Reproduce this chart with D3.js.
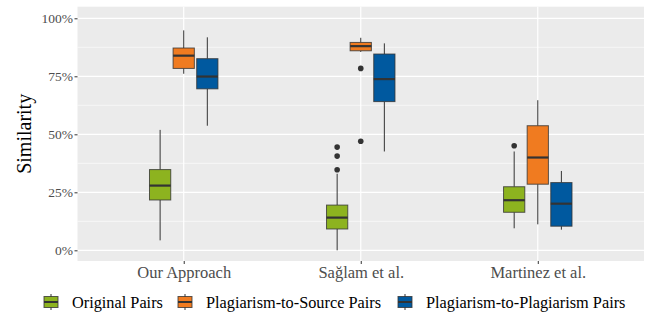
<!DOCTYPE html>
<html><head><meta charset="utf-8">
<script src="https://cdn.jsdelivr.net/npm/d3@7"></script>
<style>body{margin:0;background:#fff}svg{display:block} text{font-family:"Liberation Serif","DejaVu Serif",serif !important;}</style>
</head><body><div id="chart"></div>
<script>
const categories = ["Our Approach", "Sağlam et al.", "Martinez et al."];
const series = ["Original Pairs", "Plagiarism-to-Source Pairs", "Plagiarism-to-Plagiarism Pairs"];
const colors = ["#8DB31F", "#F07B20", "#00599F"];
// per series, per category: [lowerWhisker, q1, median, q3, upperWhisker]
const originalStats = [[4.3, 21.7, 27.9, 34.8, 51.9], [0.0, 9.2, 14.1, 19.5, 33.0], [9.5, 16.4, 21.6, 27.4, 42.6]];
const sourceStats   = [[76.1, 78.4, 83.9, 87.2, 94.8], [85.5, 86.0, 88.0, 89.6, 91.6], [11.2, 28.5, 40.0, 53.7, 64.7]];
const plagStats     = [[53.7, 69.6, 74.9, 82.6, 91.8], [42.6, 64.1, 73.8, 84.6, 89.2], [8.9, 10.4, 20.1, 29.2, 34.2]];
const originalOutliers = [[], [44.5, 40.6, 34.7], [45.1]];
const sourceOutliers   = [[], [78.4, 47.0], []];
const plagOutliers     = [[], [], []];
const yTicks = [0, 25, 50, 75, 100];
const yMinor = [12.5, 37.5, 62.5, 87.5];

const allStats = [originalStats, sourceStats, plagStats];
const allOutliers = [originalOutliers, sourceOutliers, plagOutliers];

const W = 651, H = 318;
const m = {l: 77.5, r: 7, t: 6.7, b: 57};
const svg = d3.select("#chart").append("svg").attr("width", W).attr("height", H);
const pw = W - m.l - m.r, ph = H - m.t - m.b;
const g = svg.append("g").attr("transform", `translate(${m.l},${m.t})`);

const x = d3.scalePoint().domain(categories).range([0, pw]).padding(0.6);
const step = x.step();
const y = d3.scaleLinear().domain([-4.6, 105]).range([ph, 0]);

g.append("rect").attr("width", pw).attr("height", ph).attr("fill", "#EBEBEB");
g.selectAll(".minor").data(yMinor).join("line")
  .attr("x1", 0).attr("x2", pw).attr("y1", d => y(d)).attr("y2", d => y(d))
  .attr("stroke", "#fff").attr("stroke-width", 0.6);
g.selectAll(".major").data(yTicks).join("line")
  .attr("x1", 0).attr("x2", pw).attr("y1", d => y(d)).attr("y2", d => y(d))
  .attr("stroke", "#fff").attr("stroke-width", 1.2);
g.selectAll(".vmajor").data(categories).join("line")
  .attr("x1", d => x(d)).attr("x2", d => x(d)).attr("y1", 0).attr("y2", ph)
  .attr("stroke", "#fff").attr("stroke-width", 1.2);

const dodge = 0.4 * step / 3;
const bw = dodge * 0.9;
const stroke = "#333333";

series.forEach((s, si) => {
  categories.forEach((c, ci) => {
    const [lo, q1, med, q3, hi] = allStats[si][ci];
    const cx = x(c) + (si - 1) * dodge;
    const bg = g.append("g");
    bg.append("line").attr("x1", cx).attr("x2", cx).attr("y1", y(hi)).attr("y2", y(q3)).attr("stroke", stroke).attr("stroke-width", 1);
    bg.append("line").attr("x1", cx).attr("x2", cx).attr("y1", y(q1)).attr("y2", y(lo)).attr("stroke", stroke).attr("stroke-width", 1);
    bg.append("rect").attr("x", cx - bw/2).attr("width", bw).attr("y", y(q3)).attr("height", y(q1) - y(q3))
      .attr("fill", colors[si]).attr("stroke", stroke).attr("stroke-width", 1).attr("stroke-opacity", 0.8);
    bg.append("line").attr("x1", cx - bw/2).attr("x2", cx + bw/2).attr("y1", y(med)).attr("y2", y(med))
      .attr("stroke", stroke).attr("stroke-width", 2.2);
    allOutliers[si][ci].forEach(o => {
      bg.append("circle").attr("cx", cx).attr("cy", y(o)).attr("r", 2.8).attr("fill", "#333");
    });
  });
});

// axes
const ya = g.append("g").call(d3.axisLeft(y).tickValues(yTicks).tickSize(3).tickFormat(d => d + "%"));
ya.select(".domain").remove();
ya.selectAll("line").attr("stroke", "#333");
ya.selectAll("text").attr("fill", "#4D4D4D").attr("font-size", 13.5).attr("x", -4.5);

const xa = g.append("g").attr("transform", `translate(0,${ph})`).call(d3.axisBottom(x).tickSize(3));
xa.select(".domain").remove();
xa.selectAll("line").attr("stroke", "#333");
xa.selectAll("text").attr("fill", "#4D4D4D").attr("font-size", 16.5).attr("dy", 0).attr("y", 17);

svg.append("text").attr("transform", `translate(31,${m.t + ph/2}) rotate(-90)`)
  .attr("text-anchor", "middle").attr("font-size", 20).attr("fill", "#000").text("Similarity");

// legend
const legendX = [43, 177, 397];
const ly = 302;
series.forEach((s, si) => {
  const lg = svg.append("g").attr("transform", `translate(${legendX[si]},${ly})`);
  lg.append("line").attr("x1", 8).attr("x2", 8).attr("y1", -8).attr("y2", 8).attr("stroke", stroke);
  lg.append("rect").attr("x", 1).attr("y", -5.5).attr("width", 14).attr("height", 11)
    .attr("fill", colors[si]).attr("stroke", stroke).attr("stroke-opacity", 0.8);
  lg.append("line").attr("x1", 1).attr("x2", 15).attr("y1", 0).attr("y2", 0).attr("stroke", stroke).attr("stroke-width", 2);
  lg.append("text").attr("x", 29).attr("y", 5.5).attr("font-size", 16.3).attr("fill", "#000").text(s);
});
</script></body></html>
